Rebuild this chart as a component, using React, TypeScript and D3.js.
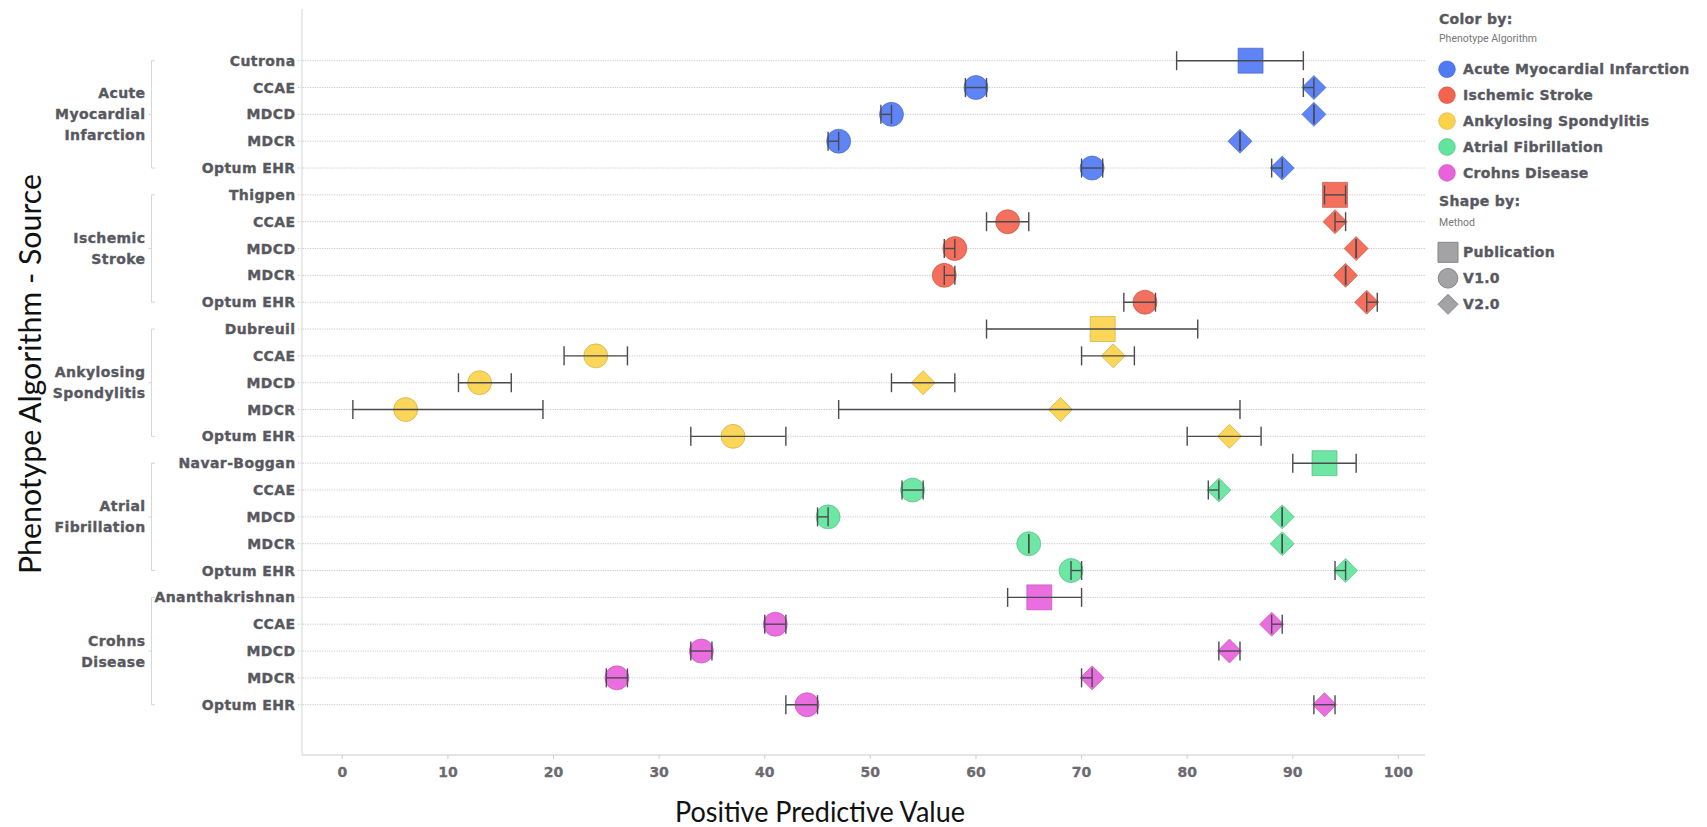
import React from "react";
import * as d3 from "d3";

// ---------- DATA ----------
const groups = [
  "Acute Myocardial Infarction",
  "Ischemic Stroke",
  "Ankylosing Spondylitis",
  "Atrial Fibrillation",
  "Crohns Disease",
];
const groupLines = [
  ["Acute", "Myocardial", "Infarction"],
  ["Ischemic", "Stroke"],
  ["Ankylosing", "Spondylitis"],
  ["Atrial", "Fibrillation"],
  ["Crohns", "Disease"],
];
const groupColors = ["#5079f4", "#f3634e", "#fbd24a", "#62e49c", "#e962dd"];
const publications = ["Cutrona", "Thigpen", "Dubreuil", "Navar-Boggan", "Ananthakrishnan"];
const sources = ["CCAE", "MDCD", "MDCR", "Optum EHR"];
const methods = ["Publication", "V1.0", "V2.0"];

// Publication estimates (per group)
const pubValue = [86, 94, 72, 93, 66];
const pubLow = [79, 93, 61, 90, 63];
const pubHigh = [91, 95, 81, 96, 70];

// V1.0 estimates [group][source]
const v1Value = [
  [60, 52, 47, 71],
  [63, 58, 57, 76],
  [24, 13, 6, 37],
  [54, 46, 65, 69],
  [41, 34, 26, 44],
];
const v1Low = [
  [59, 51, 46, 70],
  [61, 57, 57, 74],
  [21, 11, 1, 33],
  [53, 45, 65, 69],
  [40, 33, 25, 42],
];
const v1High = [
  [61, 52, 47, 72],
  [65, 58, 58, 77],
  [27, 16, 19, 42],
  [55, 46, 65, 70],
  [42, 35, 27, 45],
];

// V2.0 estimates [group][source]
const v2Value = [
  [92, 92, 85, 89],
  [94, 96, 95, 97],
  [73, 55, 68, 84],
  [83, 89, 89, 95],
  [88, 84, 71, 93],
];
const v2Low = [
  [91, 92, 85, 88],
  [94, 96, 95, 97],
  [70, 52, 47, 80],
  [82, 89, 89, 94],
  [88, 83, 70, 92],
];
const v2High = [
  [92, 92, 85, 89],
  [95, 96, 95, 98],
  [75, 58, 85, 87],
  [83, 89, 89, 95],
  [89, 85, 71, 94],
];

const xTicks = [0, 10, 20, 30, 40, 50, 60, 70, 80, 90, 100];

// ---------- BUILD ROWS ----------
type Row = { id: string; label: string; group: number };
const rows: Row[] = [];
groups.forEach((g, gi) => {
  rows.push({ id: `${gi}-pub`, label: publications[gi], group: gi });
  sources.forEach((s, si) => rows.push({ id: `${gi}-${si}`, label: s, group: gi }));
});

type Pt = { row: string; group: number; method: number; v: number; lo: number; hi: number };
const points: Pt[] = [];
groups.forEach((g, gi) => {
  points.push({ row: `${gi}-pub`, group: gi, method: 0, v: pubValue[gi], lo: pubLow[gi], hi: pubHigh[gi] });
  sources.forEach((s, si) => {
    points.push({ row: `${gi}-${si}`, group: gi, method: 1, v: v1Value[gi][si], lo: v1Low[gi][si], hi: v1High[gi][si] });
    points.push({ row: `${gi}-${si}`, group: gi, method: 2, v: v2Value[gi][si], lo: v2Low[gi][si], hi: v2High[gi][si] });
  });
});

// ---------- LAYOUT ----------
const W = 1707;
const H = 827;
const plotLeft = 302;
const plotRight = 1425;
const plotTop = 9;
const plotBottom = 755;

const x = d3.scaleLinear().domain([0, 100]).range([342.3, 1398.4]);
const y = d3.scalePoint<string>().domain(rows.map((r) => r.id)).range([60.7, 704.7]);

const labelFont = "'DejaVu Sans', sans-serif";
const textColor = "#58585f";
const heavy = { stroke: textColor, strokeWidth: 0.35, paintOrder: "stroke" } as const;

const circlePath = (r: number) => d3.symbol(d3.symbolCircle, Math.PI * r * r)() as string;
const squarePath = (s: number) => d3.symbol(d3.symbolSquare, s * s)() as string;
const diamondPath = (h: number) => `M0,${-h}L${h},0L0,${h}L${-h},0Z`;

function markerPath(method: number, big: boolean) {
  if (method === 0) return squarePath(big ? 25 : 20);
  if (method === 1) return circlePath(big ? 12 : 9.8);
  return diamondPath(big ? 12 : 10);
}

export default function App() {
  const capH = 9.5;
  return (
    <svg
      width={W}
      height={H}
      style={{ position: "absolute", left: 0, top: 0, display: "block", background: "#fff" }}
    >
      {/* grid lines */}
      {rows.map((r) => (
        <line
          key={"g" + r.id}
          x1={298}
          x2={plotRight}
          y1={y(r.id)}
          y2={y(r.id)}
          stroke="#c9c9cc"
          strokeWidth={1}
          strokeDasharray="1.2,1.2"
        />
      ))}
      {/* plot frame */}
      <line x1={plotLeft} x2={plotLeft} y1={plotTop} y2={plotBottom} stroke="#dcdcdf" strokeWidth={1.2} />
      <line x1={plotLeft} x2={plotRight} y1={plotBottom} y2={plotBottom} stroke="#dcdcdf" strokeWidth={1.5} />
      {/* x ticks */}
      {xTicks.map((t) => (
        <g key={"t" + t}>
          <line x1={x(t)} x2={x(t)} y1={plotBottom} y2={plotBottom + 4} stroke="#cfcfd2" />
          <text
            x={x(t)}
            y={776.5}
            textAnchor="middle"
            fontFamily={labelFont}
            fontWeight="bold"
            fontSize={14}
            fill="#6a6a70"
            stroke="#6a6a70"
            strokeWidth={0.3}
          >
            {t}
          </text>
        </g>
      ))}
      {/* row labels */}
      {rows.map((r) => (
        <text
          key={"l" + r.id}
          x={295.5}
          y={y(r.id)}
          dy="0.36em"
          textAnchor="end"
          fontFamily={labelFont}
          fontWeight="bold"
          fontSize={14}
          letterSpacing={0.4}
          fill={textColor}
          {...heavy}
        >
          {r.label}
        </text>
      ))}
      {/* group brackets & labels */}
      {groups.map((g, gi) => {
        const ids = rows.filter((r) => r.group === gi).map((r) => r.id);
        const y0 = y(ids[0])!;
        const y1 = y(ids[ids.length - 1])!;
        const mid = (y0 + y1) / 2;
        const lines = groupLines[gi];
        const lh = 21;
        return (
          <g key={"grp" + gi}>
            <path
              d={`M155,${y0}H151.5V${y1}H155M151.5,${mid}H148.5`}
              fill="none"
              stroke="#d6d6da"
              strokeWidth={1}
            />
            {lines.map((ln, li) => (
              <text
                key={li}
                x={145.5}
                y={mid + (li - (lines.length - 1) / 2) * lh}
                dy="0.36em"
                textAnchor="end"
                fontFamily={labelFont}
                fontWeight="bold"
                fontSize={14}
                letterSpacing={0.4}
                fill={textColor}
                {...heavy}
              >
                {ln}
              </text>
            ))}
          </g>
        );
      })}
      {/* markers */}
      {points.map((p, i) => {
        const c = groupColors[p.group];
        return (
          <path
            key={"m" + i}
            d={markerPath(p.method, true)}
            transform={`translate(${x(p.v)},${y(p.row)})`}
            fill={c}
            fillOpacity={0.92}
            stroke={d3.color(c)!.darker(0.7).formatHex()}
            strokeOpacity={0.6}
            strokeWidth={1}
          />
        );
      })}
      {/* error bars */}
      {points.map((p, i) => {
        const yy = y(p.row)!;
        return (
          <g key={"e" + i} stroke="#4a4a4f" strokeWidth={1.4} fill="none">
            <line x1={x(p.lo)} x2={x(p.hi)} y1={yy} y2={yy} />
            <line x1={x(p.lo)} x2={x(p.lo)} y1={yy - capH} y2={yy + capH} />
            <line x1={x(p.hi)} x2={x(p.hi)} y1={yy - capH} y2={yy + capH} />
          </g>
        );
      })}
      {/* axis titles */}
      <text
        x={820}
        y={822}
        textAnchor="middle"
        fontFamily="Lato, 'Open Sans', sans-serif"
        fontSize={29}
        textLength={290}
        lengthAdjust="spacingAndGlyphs"
        fill="#111"
      >
        Positive Predictive Value
      </text>
      <text
        transform="translate(41,374) rotate(-90)"
        textAnchor="middle"
        fontFamily="Lato, 'Open Sans', sans-serif"
        fontSize={30.5}
        textLength={400}
        lengthAdjust="spacingAndGlyphs"
        fill="#111"
      >
        Phenotype Algorithm - Source
      </text>
      {/* legend */}
      <g>
        <text x={1439} y={24} fontFamily={labelFont} fontWeight="bold" fontSize={14} letterSpacing={0.3} fill={textColor} {...heavy}>
          Color by:
        </text>
        <text x={1439} y={42} fontFamily="Roboto, sans-serif" fontSize={10.5} fill="#777">
          Phenotype Algorithm
        </text>
        {groups.map((g, gi) => {
          const cy = 69.3 + gi * 25.9;
          const c = groupColors[gi];
          return (
            <g key={"lg" + gi}>
              <circle cx={1447} cy={cy} r={8.4} fill={c} stroke={d3.color(c)!.darker(0.7).formatHex()} strokeOpacity={0.5} />
              <text
                x={1463}
                y={cy}
                dy="0.36em"
                fontFamily={labelFont}
                fontWeight="bold"
                fontSize={14}
                letterSpacing={0.3}
                fill={textColor}
                {...heavy}
              >
                {g}
              </text>
            </g>
          );
        })}
        <text x={1439} y={206} fontFamily={labelFont} fontWeight="bold" fontSize={14} letterSpacing={0.3} fill={textColor} {...heavy}>
          Shape by:
        </text>
        <text x={1439} y={226} fontFamily="Roboto, sans-serif" fontSize={10.5} fill="#777">
          Method
        </text>
        {methods.map((m, mi) => {
          const cy = 252.3 + mi * 26;
          return (
            <g key={"lm" + mi}>
              <path
                d={markerPath(mi, false)}
                transform={`translate(${1448},${cy})`}
                fill="#a3a3a6"
                stroke="#858588"
                strokeWidth={1}
              />
              <text
                x={1463}
                y={cy}
                dy="0.36em"
                fontFamily={labelFont}
                fontWeight="bold"
                fontSize={14}
                letterSpacing={0.3}
                fill={textColor}
                {...heavy}
              >
                {m}
              </text>
            </g>
          );
        })}
      </g>
    </svg>
  );
}
